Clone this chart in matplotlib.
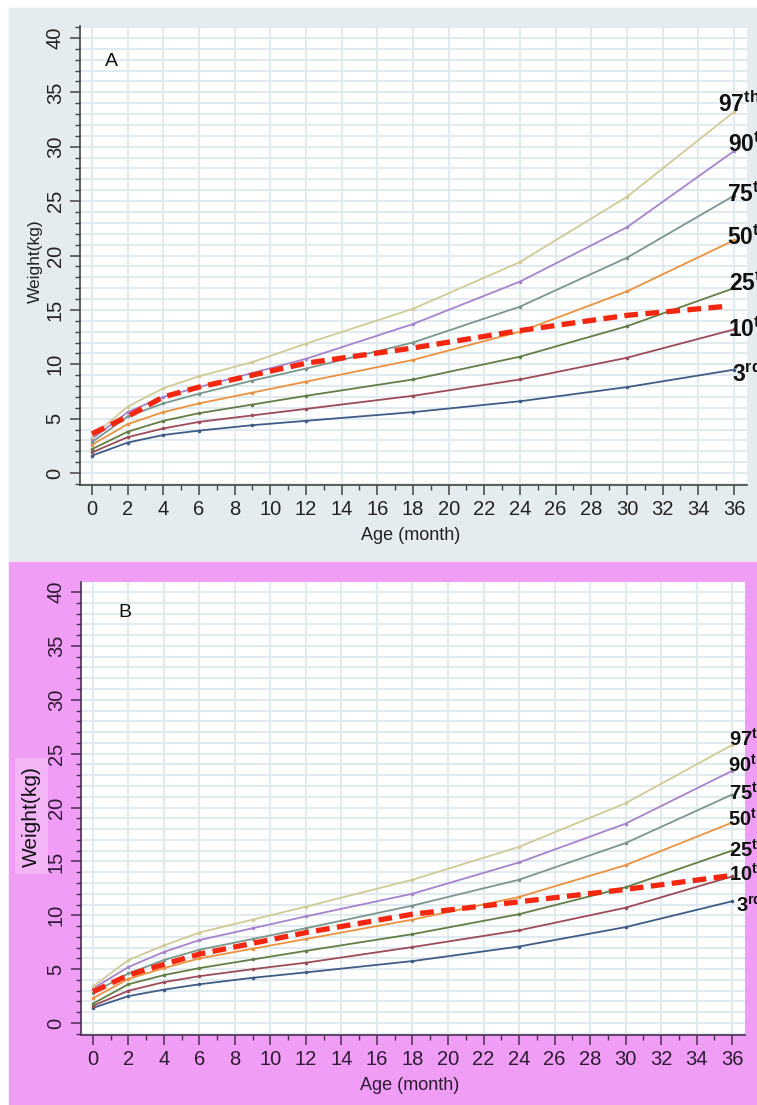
import numpy as np
import matplotlib
matplotlib.use("Agg")
import matplotlib.pyplot as plt
from matplotlib.patches import Rectangle
from matplotlib.ticker import MultipleLocator
from matplotlib import rcParams

rcParams['font.family'] = 'Liberation Sans'
rcParams['mathtext.fontset'] = 'custom'
rcParams['mathtext.bf'] = 'Liberation Sans:bold'
rcParams['mathtext.rm'] = 'Liberation Sans'

# age points (months)
age = [0, 2, 4, 6, 9, 12, 18, 24, 30, 36]
pct_names = ["3", "10", "25", "50", "75", "90", "97"]
pct_suffix = ["rd", "th", "th", "th", "th", "th", "th"]

# panel A reference percentiles (kg)
a_p3 = [1.6, 2.8, 3.5, 3.9, 4.4, 4.8, 5.6, 6.6, 7.9, 9.5]
a_p10 = [1.9, 3.3, 4.1, 4.7, 5.3, 5.9, 7.1, 8.6, 10.6, 13.2]
a_p25 = [2.2, 3.8, 4.8, 5.5, 6.3, 7.1, 8.6, 10.7, 13.5, 17.0]
a_p50 = [2.6, 4.5, 5.6, 6.4, 7.4, 8.4, 10.4, 13.0, 16.7, 21.4]
a_p75 = [2.85, 5.2, 6.4, 7.3, 8.5, 9.6, 12.0, 15.3, 19.8, 25.5]
a_p90 = [3.15, 5.6, 7.0, 7.9, 9.2, 10.5, 13.7, 17.6, 22.6, 29.6]
a_p97 = [3.35, 6.1, 7.8, 8.9, 10.2, 11.9, 15.1, 19.4, 25.4, 33.2]
a_study_age = [0, 2, 4, 6, 9, 12, 18, 24, 30, 35.7]
a_study = [3.6, 5.2, 7.0, 7.9, 9.0, 10.1, 11.5, 13.1, 14.5, 15.35]

# panel B reference percentiles (kg)
b_p3 = [1.4, 2.5, 3.1, 3.6, 4.2, 4.7, 5.75, 7.1, 8.9, 11.3]
b_p10 = [1.6, 3.0, 3.8, 4.35, 5.0, 5.6, 7.05, 8.6, 10.7, 13.6]
b_p25 = [1.8, 3.6, 4.45, 5.1, 5.9, 6.7, 8.25, 10.1, 12.6, 16.0]
b_p50 = [2.3, 4.1, 5.1, 6.0, 6.9, 7.8, 9.6, 11.7, 14.65, 18.6]
b_p75 = [2.8, 4.6, 5.85, 6.8, 7.8, 8.8, 10.9, 13.3, 16.7, 21.2]
b_p90 = [3.2, 5.2, 6.6, 7.7, 8.8, 9.9, 12.0, 14.9, 18.5, 23.4]
b_p97 = [3.4, 5.85, 7.2, 8.4, 9.6, 10.8, 13.3, 16.35, 20.4, 25.8]
b_study_age = [0, 2, 4, 6, 9, 12, 18, 24, 30, 36]
b_study = [2.9, 4.45, 5.45, 6.4, 7.4, 8.4, 10.1, 11.25, 12.4, 13.7]

# label anchors (month, kg) for the percentile tags
a_lab_x = [35.9, 35.65, 35.7, 35.6, 35.6, 35.65, 35.1]
a_lab_y = [9.1, 13.2, 17.5, 21.7, 25.6, 30.25, 33.9]
b_lab_x = [36.2, 35.85, 35.85, 35.8, 35.85, 35.8, 35.85]
b_lab_y = [11.0, 13.8, 16.1, 18.9, 21.4, 24.0, 26.4]

colors = ["#3e5c86", "#9c4b58", "#627e44", "#ea9240", "#7b968d", "#a683cc", "#d0ca96"]

W, H = 757, 1105
fig = plt.figure(figsize=(W / 100, H / 100), dpi=100)
fig.patch.set_facecolor("white")

# panel backgrounds (behind the axes)
bgA = Rectangle((9 / W, 1 - 560 / H), 1, (560 - 8) / H,
                transform=fig.transFigure, color="#e4ecef")
bgB = Rectangle((9 / W, 0), 1, 1 - 562 / H,
                transform=fig.transFigure, color="#f09df6")
bgA.set_zorder(-10)
bgB.set_zorder(-10)
fig.add_artist(bgA)
fig.add_artist(bgB)

axA = fig.add_axes([80 / W, 1 - 485 / H, 667 / W, 459 / H])
axB = fig.add_axes([81 / W, 1 - 1035 / H, 664 / W, 453 / H])

panels = [
    (axA, [a_p3, a_p10, a_p25, a_p50, a_p75, a_p90, a_p97], a_study_age, a_study,
     a_lab_x, a_lab_y, "A", (1.07, 37.8), (-1.10, 41.1), "#222222", "#444444", 16.5),
    (axB, [b_p3, b_p10, b_p25, b_p50, b_p75, b_p90, b_p97], b_study_age, b_study,
     b_lab_x, b_lab_y, "B", (1.8, 38.1), (-1.11, 40.93), "#2e1a33", "#4a2f50", 14.5),
]

for ax, curves, sx, sy, lx, ly, tag, tagpos, ylim, tc, sc, lfs in panels:
    ax.set_facecolor("white")
    for vals, c in zip(curves, colors):
        ax.plot(age, vals, color=c, lw=1.3, marker="o", ms=1.6, zorder=3)
    ax.plot(sx, sy, color="#f3260f", lw=3.8, dashes=(2.6, 1.4), zorder=4,
            solid_capstyle="butt", dash_capstyle="butt")
    for name, suf, x, y in zip(pct_names, pct_suffix, lx, ly):
        ax.text(x, y, r"$\mathbf{%s^{%s}}$" % (name, suf), fontsize=lfs,
                color="#111111", ha="left", va="center", zorder=5)
    ax.text(tagpos[0], tagpos[1], tag, fontsize=14, color="#111111",
            ha="center", va="center")

    ax.set_xlim(-0.673, 36.73)
    ax.set_ylim(*ylim)
    ax.xaxis.set_major_locator(MultipleLocator(2))
    ax.xaxis.set_minor_locator(MultipleLocator(1))
    ax.yaxis.set_major_locator(MultipleLocator(5))
    ax.yaxis.set_minor_locator(MultipleLocator(1))
    ax.grid(True, which="major", axis="x", color="#e1eaee", lw=1.5, zorder=0)
    ax.grid(True, which="both", axis="y", color="#e1eaee", lw=1.5, zorder=0)
    ax.set_axisbelow(True)
    for s in ["top", "right"]:
        ax.spines[s].set_visible(False)
    for s in ["left", "bottom"]:
        ax.spines[s].set_color(sc)
        ax.spines[s].set_linewidth(1.2)
    ax.tick_params(which="major", length=7, width=1.1, color=sc, labelcolor=tc,
                   labelsize=14.5, pad=4)
    ax.tick_params(which="minor", length=3.5, width=1.0, color=sc)
    for lab in ax.get_yticklabels():
        lab.set_rotation(90)
        lab.set_va("center")
    ax.set_xlabel("Age (month)", fontsize=13, color=tc)

axA.set_ylabel("Weight(kg)", fontsize=12.5, color="#222222")
axA.yaxis.set_label_coords(-0.055, 0.488)
axA.xaxis.set_label_coords(0.495, -0.0915)

axB.set_ylabel("Weight(kg)", fontsize=15, color="#111111",
               bbox=dict(boxstyle="square,pad=0.35", fc="#f4b5f7", ec="none"))
axB.yaxis.set_label_coords(-0.060, 0.483)
axB.xaxis.set_label_coords(0.495, -0.093)

fig.savefig("out.png", dpi=100, facecolor=fig.get_facecolor())
